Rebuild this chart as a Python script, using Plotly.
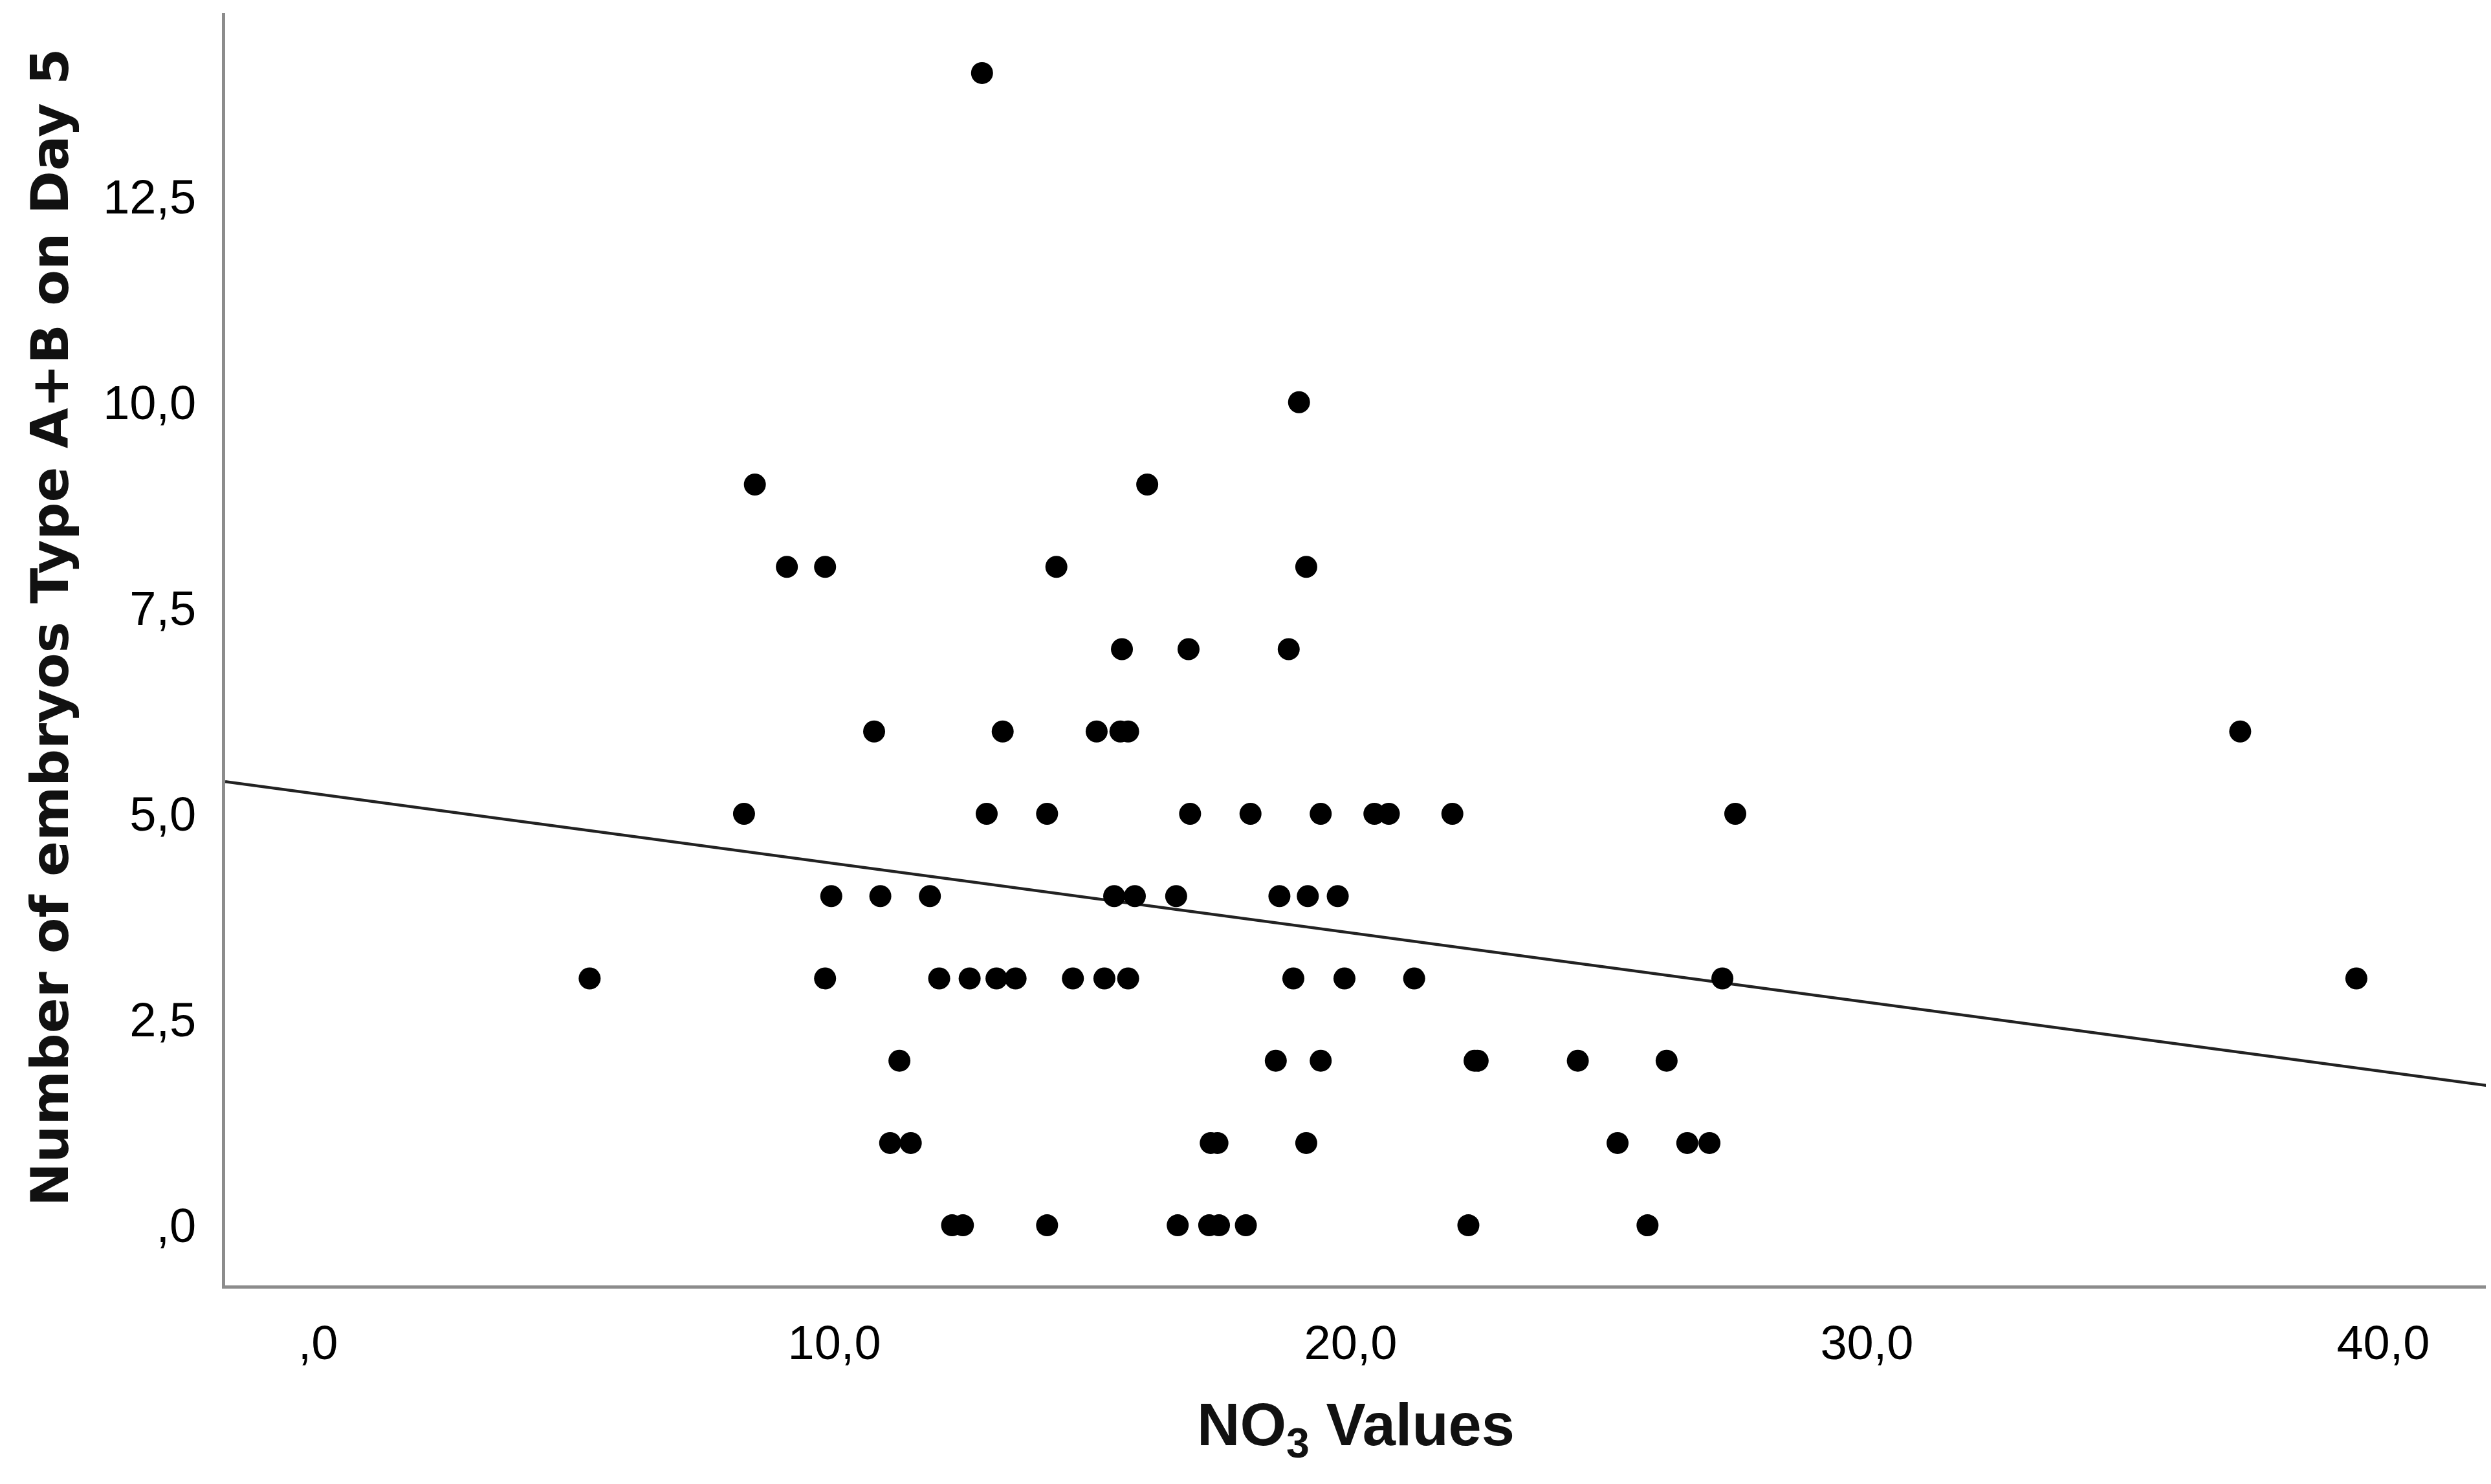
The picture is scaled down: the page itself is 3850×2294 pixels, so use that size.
import plotly.graph_objects as go

# NO3 values (x) and number of embryos type A+B on day 5 (y)
no3 = [12.86,
       19.0,
       8.46, 16.06,
       9.08, 9.82, 14.3, 19.14,
       15.57, 16.86, 18.8,
       10.77, 13.26, 15.08, 15.54, 15.69, 37.23,
       8.25, 12.95, 14.12, 16.89, 18.06, 19.42, 20.46, 20.74, 21.97, 27.45,
       9.94, 10.89, 11.85, 15.42, 15.82, 16.62, 18.62, 19.17, 19.75,
       5.26, 9.82, 12.03, 12.62, 13.14, 13.51, 14.62, 15.23, 15.69, 18.89, 19.88, 21.23, 27.2, 39.48,
       11.26, 18.55, 19.42, 22.4, 22.46, 24.4, 26.12,
       11.08, 11.48, 17.29, 17.42, 19.14, 25.17, 26.52, 26.95,
       12.28, 12.49, 14.12, 16.65, 17.26, 17.45, 17.97, 22.28, 25.75]
embryos = [14,
           10,
           9, 9,
           8, 8, 8, 8,
           7, 7, 7,
           6, 6, 6, 6, 6, 6,
           5, 5, 5, 5, 5, 5, 5, 5, 5, 5,
           4, 4, 4, 4, 4, 4, 4, 4, 4,
           3, 3, 3, 3, 3, 3, 3, 3, 3, 3, 3, 3, 3, 3,
           2, 2, 2, 2, 2, 2, 2,
           1, 1, 1, 1, 1, 1, 1, 1,
           0, 0, 0, 0, 0, 0, 0, 0, 0]

# Linear fit line ends
fit_x = [-1.8, 42.0]
fit_y = [5.39, 1.70]

x_tickvals = [0, 10, 20, 30, 40]
x_ticktext = [",0", "10,0", "20,0", "30,0", "40,0"]
y_tickvals = [0, 2.5, 5, 7.5, 10, 12.5]
y_ticktext = [",0", "2,5", "5,0", "7,5", "10,0", "12,5"]

y_title = "Number of embryos Type A+B on Day 5"
x_title = "NO<sub>3</sub> Values"

fig = go.Figure()
fig.add_trace(go.Scatter(x=fit_x, y=fit_y, mode="lines",
                         line=dict(color="#222222", width=4.5),
                         showlegend=False, hoverinfo="skip"))
fig.add_trace(go.Scatter(x=no3, y=embryos, mode="markers",
                         marker=dict(color="black", size=34, line=dict(width=0)),
                         showlegend=False))

tick_font = dict(family="Liberation Sans Narrow, Liberation Sans, sans-serif", size=74, color="#000000")

fig.update_layout(
    width=3850, height=2294,
    plot_bgcolor="white", paper_bgcolor="white",
    margin=dict(l=340, r=15, t=12, b=315),
    xaxis=dict(range=[-1.8, 42.0], tickvals=x_tickvals, ticktext=x_ticktext,
               showgrid=False, zeroline=False, showline=True, linecolor="#8c8c8c",
               linewidth=5, ticks="", tickfont=tick_font, ticklabelstandoff=20,
               title=dict(text=x_title, standoff=55,
                          font=dict(family="Liberation Sans Narrow, Liberation Sans, sans-serif",
                                    size=92, color="#111111", weight="bold"))),
    yaxis=dict(range=[-0.73, 14.73], tickvals=y_tickvals, ticktext=y_ticktext,
               showgrid=False, zeroline=False, showline=True, linecolor="#8c8c8c",
               linewidth=5, ticks="", tickfont=tick_font, ticklabelstandoff=25),
)
fig.add_annotation(text=y_title, xref="paper", yref="paper", x=0, y=0.517,
                   xanchor="center", yanchor="middle", xshift=-271, textangle=-90,
                   showarrow=False,
                   font=dict(family="DejaVu Sans, sans-serif", size=81,
                             color="#111111", weight="bold"))

fig.write_html("out.html")
